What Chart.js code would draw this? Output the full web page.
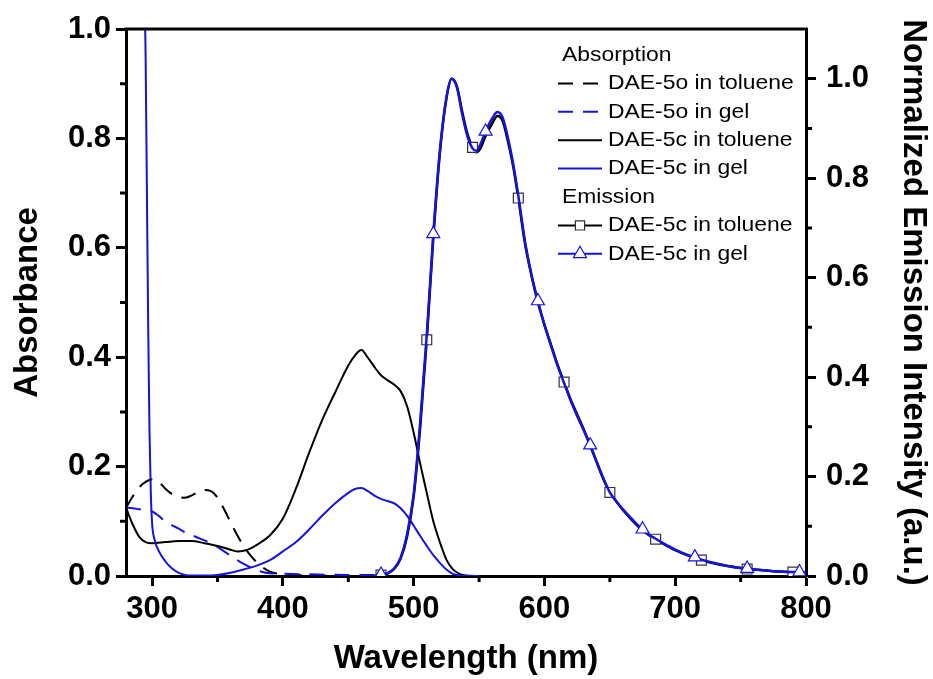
<!DOCTYPE html>
<html><head><meta charset="utf-8">
<script src="https://cdn.jsdelivr.net/npm/chart.js@4.4.0/dist/chart.umd.min.js"></script>
<style>html,body{margin:0;padding:0;background:#fff;}#wrap{width:933px;height:679px;position:relative;}</style>
</head><body><div id="wrap"><canvas id="c" width="933" height="679"></canvas></div>
<script>
// ---------- data ----------
const xTicks = [300, 400, 500, 600, 700, 800];
const xMinor = [350, 450, 550, 650, 750];
const yTicks = [0, 0.2, 0.4, 0.6, 0.8, 1.0];
const yMinor = [0.1, 0.3, 0.5, 0.7, 0.9];
const y2Ticks = [0, 0.2, 0.4, 0.6, 0.8, 1.0];
const y2Minor = [0.1, 0.3, 0.5, 0.7, 0.9];

// DAE-5o absorption (open form)
const openWl = [280,285,290,295,300,305,310,315,320,325,330,335,340,345,350,355,360,365,370,375,380,385,390,400,420,450,480];
const openToluene = [0.125,0.145,0.162,0.172,0.177,0.172,0.16,0.15,0.145,0.143,0.147,0.153,0.157,0.155,0.143,0.122,0.098,0.075,0.055,0.038,0.025,0.015,0.008,0.003,0.001,0,0];
const openGel = [0.125,0.124,0.122,0.12,0.118,0.11,0.1,0.093,0.087,0.08,0.075,0.07,0.065,0.06,0.053,0.045,0.037,0.029,0.022,0.016,0.011,0.007,0.005,0.004,0.003,0.002,0.002];

// DAE-5c absorption in toluene (closed form)
const closedTolWl = [280,285,290,295,300,310,320,330,340,350,360,365,370,375,380,390,400,410,420,430,440,450,455,460,465,470,475,480,485,490,495,500,505,510,515,520,525,530,535,540,550];
const closedToluene = [0.125,0.095,0.072,0.062,0.06,0.062,0.064,0.064,0.06,0.055,0.048,0.045,0.046,0.05,0.057,0.074,0.105,0.16,0.225,0.285,0.336,0.385,0.403,0.413,0.399,0.382,0.367,0.358,0.35,0.338,0.31,0.262,0.205,0.152,0.1,0.062,0.03,0.012,0.004,0.001,0];

// DAE-5c absorption in gel
const closedGelWl = [290,294,295,296,297,298,299,300,302,305,310,315,320,325,330,340,350,360,370,380,390,400,410,420,430,440,450,455,460,465,470,475,480,485,490,495,500,505,510,515,520,525,530,535,540,550];
const closedGel = [2.5,1.1,0.95,0.7,0.45,0.26,0.15,0.095,0.065,0.046,0.027,0.014,0.006,0.002,0.001,0.001,0.002,0.006,0.012,0.019,0.029,0.045,0.062,0.085,0.11,0.133,0.152,0.159,0.161,0.155,0.147,0.141,0.137,0.133,0.124,0.11,0.092,0.073,0.055,0.038,0.024,0.012,0.004,0.001,0,0];

// Normalized emission of DAE-5c
const emWl = [465,470,475,480,485,490,495,500,505,510,515,520,525,529,533,537,541,545,548,551,555,560,564,568,572,576,580,585,590,595,600,605,610,615,620,625,630,635,640,645,650,655,660,665,670,675,680,685,690,695,700,705,710,715,720,730,740,750,755,760,770,780,790,795,800];
const emToluene = [0,0,0.002,0.005,0.014,0.035,0.08,0.16,0.3,0.475,0.68,0.85,0.96,1.0,0.985,0.935,0.89,0.862,0.852,0.86,0.885,0.91,0.925,0.915,0.875,0.825,0.76,0.67,0.605,0.55,0.505,0.465,0.425,0.39,0.355,0.325,0.295,0.262,0.228,0.195,0.168,0.15,0.133,0.118,0.104,0.092,0.082,0.074,0.066,0.059,0.052,0.046,0.041,0.037,0.032,0.025,0.02,0.016,0.014,0.013,0.011,0.009,0.008,0.008,0.007];
const emGel = [0,0,0.003,0.006,0.015,0.037,0.085,0.165,0.31,0.485,0.688,0.855,0.962,1.0,0.983,0.93,0.885,0.86,0.855,0.868,0.894,0.92,0.933,0.922,0.882,0.83,0.765,0.675,0.607,0.553,0.505,0.463,0.423,0.388,0.353,0.322,0.293,0.263,0.23,0.197,0.168,0.15,0.134,0.12,0.106,0.094,0.083,0.075,0.067,0.06,0.053,0.047,0.042,0.038,0.033,0.026,0.02,0.016,0.015,0.013,0.011,0.009,0.008,0.008,0.007];
// wavelengths carrying symbols
const squareAt = [475,510,545,580,615,650,685,720,755,790];
const triangleAt = [475,515,555,595,635,675,715,755,795];

const seriesNames = ['DAE-5o in toluene','DAE-5o in gel','DAE-5c in toluene','DAE-5c in gel','DAE-5c in toluene','DAE-5c in gel'];

// ---------- chart ----------
const BLUE = '#1414dc';
const FONT = "'Liberation Sans', Arial, sans-serif";
const pts = (wl, v) => wl.map((x, i) => ({x, y: v[i]}));
const markerRadius = (set, r) => (c) => (c.raw && set.includes(c.raw.x)) ? r : 0;

const lineBase = {fill:false, pointRadius:0, pointHoverRadius:0, cubicInterpolationMode:'monotone', borderWidth:2};

const datasets = [
  {...lineBase, label:seriesNames[0], data:pts(openWl, openToluene), borderColor:'#000', borderDash:[15,10], yAxisID:'y', order:5},
  {...lineBase, label:seriesNames[1], data:pts(openWl, openGel), borderColor:BLUE, borderDash:[15,10], yAxisID:'y', order:4},
  {...lineBase, label:seriesNames[2], data:pts(closedTolWl, closedToluene), borderColor:'#000', yAxisID:'y', order:3},
  {...lineBase, label:seriesNames[3], data:pts(closedGelWl, closedGel), borderColor:BLUE, yAxisID:'y', order:2},
  {...lineBase, label:seriesNames[4], data:pts(emWl, emToluene), borderColor:'#000', borderWidth:2.5, yAxisID:'y2', order:1,
    pointStyle:'rect', pointRadius:markerRadius(squareAt, 7), pointBackgroundColor:'#fff', pointBorderColor:'#333', pointBorderWidth:1.2},
  {...lineBase, label:seriesNames[5], data:pts(emWl, emGel), borderColor:BLUE, borderWidth:2.5, yAxisID:'y2', order:0,
    pointStyle:'triangle', pointRadius:markerRadius(triangleAt, 7.5), pointBackgroundColor:'#fff', pointBorderColor:BLUE, pointBorderWidth:1.2},
];

const tickFont = {family:FONT, size:31, weight:'bold'};
const titleFont = {family:FONT, size:33, weight:'bold'};
const gridOpts = {drawOnChartArea:false, drawTicks:true, tickLength:10, tickWidth:3, tickColor:'#000', color:'#000'};
const borderOpts = {display:true, width:3, color:'#000'};

const frameAndMinor = {
  id:'frameAndMinor',
  afterDraw(chart){
    const {ctx, chartArea:a, scales} = chart;
    ctx.save();
    ctx.strokeStyle = '#000'; ctx.lineWidth = 3; ctx.setLineDash([]);
    ctx.beginPath();
    xMinor.forEach(v => { const p = scales.x.getPixelForValue(v); ctx.moveTo(p, a.bottom); ctx.lineTo(p, a.bottom + 6); });
    yMinor.forEach(v => { const p = scales.y.getPixelForValue(v); ctx.moveTo(a.left, p); ctx.lineTo(a.left - 6, p); });
    y2Minor.forEach(v => { const p = scales.y2.getPixelForValue(v); ctx.moveTo(a.right, p); ctx.lineTo(a.right + 6, p); });
    ctx.moveTo(a.left - 1.5, a.top); ctx.lineTo(a.right + 1.5, a.top);
    ctx.stroke();
    ctx.restore();
  }
};

const legendRows = [{header:'Absorption'},{ds:0},{ds:1},{ds:2},{ds:3},{header:'Emission'},{ds:4},{ds:5}];
const customLegend = {
  id:'customLegend',
  afterDraw(chart){
    const ctx = chart.ctx;
    const x0 = 558, x1 = 600, tx = 608, y0 = 55, dy = 28.4, stretch = 1.09;
    const text = (t, x, y) => { ctx.save(); ctx.translate(x, y); ctx.scale(stretch, 1); ctx.fillText(t, 0, 0); ctx.restore(); };
    ctx.save();
    ctx.font = "21px " + FONT; ctx.fillStyle = '#000'; ctx.textBaseline = 'middle'; ctx.textAlign = 'left';
    legendRows.forEach((r, i) => {
      const y = y0 + i * dy;
      if (r.header) { text(r.header, 562, y); return; }
      const ds = chart.data.datasets[r.ds];
      ctx.save();
      ctx.strokeStyle = ds.borderColor; ctx.lineWidth = 2; ctx.setLineDash(ds.borderDash || []);
      ctx.beginPath(); ctx.moveTo(x0, y); ctx.lineTo(ds.borderDash ? x1 - 2 : x1 + 2, y); ctx.stroke();
      ctx.setLineDash([]);
      if (ds.pointStyle) {
        ctx.fillStyle = ds.pointBackgroundColor; ctx.strokeStyle = ds.pointBorderColor; ctx.lineWidth = ds.pointBorderWidth;
        Chart.helpers.drawPoint(ctx, {pointStyle: ds.pointStyle, rotation:0, borderWidth: ds.pointBorderWidth, radius: ds.pointStyle === 'rect' ? 6.5 : 7.5}, (x0 + x1 + 2) / 2, y);
      }
      ctx.restore();
      text(ds.label, tx, y);
    });
    ctx.restore();
  }
};

new Chart(document.getElementById('c'), {
  type:'line',
  data:{datasets},
  options:{
    responsive:false, animation:false, events:[], devicePixelRatio:1,
    layout:{padding:{top:29, left:0, right:0, bottom:0}},
    plugins:{legend:{display:false}, tooltip:{enabled:false}},
    scales:{
      x:{type:'linear', position:'bottom', min:280, max:800,
        afterBuildTicks:s => { s.ticks = xTicks.map(v => ({value:v})); },
        afterFit:s => { s.height = 103; },
        ticks:{font:tickFont, color:'#000', padding:5, maxRotation:0, autoSkip:false, callback:v => String(v)},
        grid:gridOpts, border:borderOpts,
        title:{display:true, text:'Wavelength (nm)', font:titleFont, color:'#000', padding:{top:0, bottom:0}}},
      y:{type:'linear', position:'left', min:0, max:1.0,
        afterBuildTicks:s => { s.ticks = yTicks.map(v => ({value:v})); },
        afterFit:s => { s.width = 126; },
        ticks:{font:tickFont, color:'#000', padding:5, callback:v => Number(v).toFixed(1)},
        grid:gridOpts, border:borderOpts,
        title:{display:true, text:'Absorbance', font:titleFont, color:'#000', padding:{top:8, bottom:0}}},
      y2:{type:'linear', position:'right', min:0, max:1.1,
        afterBuildTicks:s => { s.ticks = y2Ticks.map(v => ({value:v})); },
        afterFit:s => { s.width = 127; },
        ticks:{font:tickFont, color:'#000', padding:10, callback:v => Number(v).toFixed(1)},
        grid:gridOpts, border:borderOpts,
        title:{display:true, text:'Normalized Emission Intensity (a.u.)', font:titleFont, color:'#000', padding:{top:0, bottom:0}}}
    }
  },
  plugins:[frameAndMinor, customLegend]
});
</script></body></html>
